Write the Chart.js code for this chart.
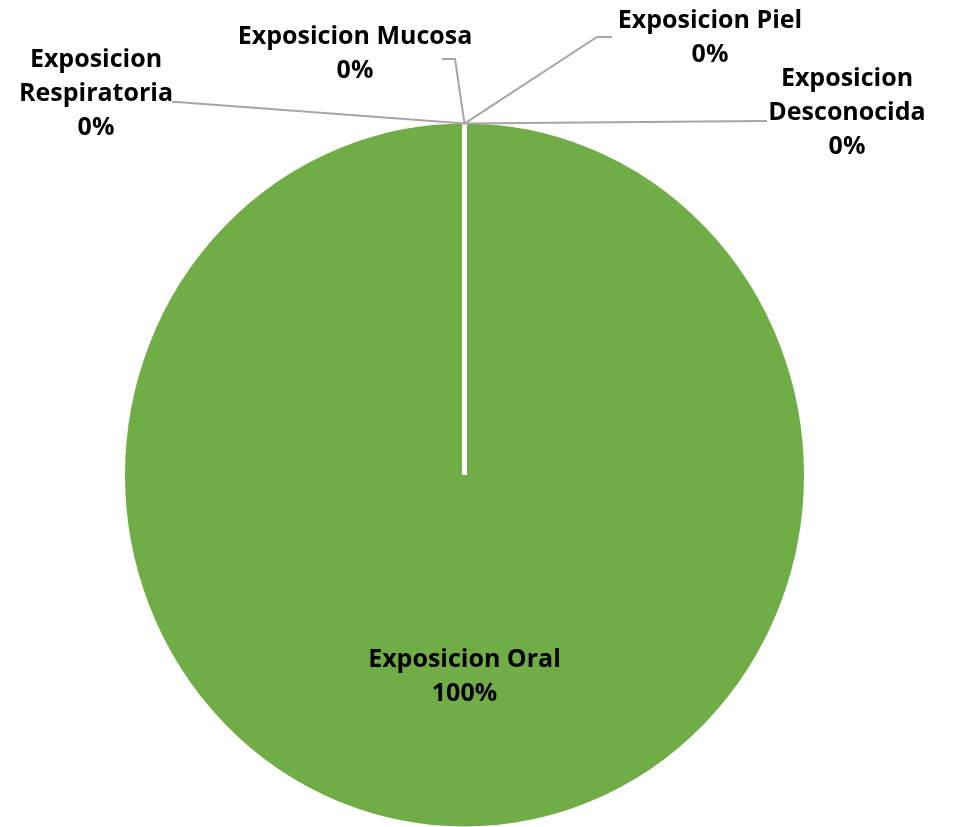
<!DOCTYPE html>
<html>
<head>
<meta charset="utf-8">
<script src="https://cdn.jsdelivr.net/npm/chart.js@4.4.1/dist/chart.umd.min.js"></script>
<style>
  html, body { margin: 0; padding: 0; background: #ffffff; }
  #wrap { position: relative; width: 959px; height: 827px; }
</style>
</head>
<body>
<div id="wrap"><canvas id="c" width="959" height="827"></canvas></div>
<script>
const categories = ["Exposicion Oral", "Exposicion Respiratoria", "Exposicion Mucosa", "Exposicion Piel", "Exposicion Desconocida"];
const values = [100, 0, 0, 0, 0];
const colors = ["#70ad47", "#ed7d31", "#a5a5a5", "#ffc000", "#5b9bd5"];

const FONT = 'bold 25px "Open Sans", "DejaVu Sans", sans-serif';
const LINE_H = 34;
const SCALE_Y = 1.035;

// label placement (text block centre + leader elbow), per category index
const labelLayout = {
  1: { wrap: true,  x: 96,  y: 94,  elbow: [177, 102], end: [172, 102] },
  2: { wrap: false, x: 355, y: 54,  elbow: [455, 59],  end: [442, 59] },
  3: { wrap: false, x: 710, y: 38,  elbow: [597, 37],  end: [612, 37] },
  4: { wrap: true,  x: 847, y: 113, elbow: [762, 121], end: [767, 121] }
};

const ellipsePlugin = {
  id: 'ellipse',
  beforeDatasetsDraw(chart) {
    const el = chart.getDatasetMeta(0).data[0];
    const ctx = chart.ctx;
    ctx.save();
    ctx.translate(el.x, el.y);
    ctx.scale(1, SCALE_Y);
    ctx.translate(-el.x, -el.y);
  },
  afterDatasetsDraw(chart) {
    chart.ctx.restore();
  }
};

const labelPlugin = {
  id: 'pieLabels',
  afterDatasetsDraw(chart) {
    const ctx = chart.ctx;
    const meta = chart.getDatasetMeta(0);
    const data = chart.data.datasets[0].data;
    const total = data.reduce((a, b) => a + b, 0);
    ctx.save();
    ctx.font = FONT;
    ctx.fillStyle = '#000000';
    ctx.textAlign = 'center';
    ctx.textBaseline = 'middle';
    meta.data.forEach((arc, i) => {
      const name = chart.data.labels[i];
      const pct = Math.round(data[i] / total * 100) + '%';
      const p = arc.getProps(['x', 'y', 'startAngle', 'endAngle', 'outerRadius'], true);
      if (data[i] > 0) {
        const mid = (p.startAngle + p.endAngle) / 2;
        const r = p.outerRadius * 0.57;
        const cx = p.x + Math.cos(mid) * r;
        const cy = p.y + Math.sin(mid) * r * SCALE_Y;
        ctx.fillText(name, cx, cy - LINE_H / 2);
        ctx.fillText(pct, cx, cy + LINE_H / 2);
      } else {
        const L = labelLayout[i];
        const sx = p.x + Math.cos(p.startAngle) * (p.outerRadius - 2.5);
        const sy = p.y + Math.sin(p.startAngle) * (p.outerRadius - 2.5) * SCALE_Y;
        ctx.strokeStyle = '#a6a6a6';
        ctx.lineWidth = 2;
        ctx.beginPath();
        ctx.moveTo(sx, sy);
        ctx.lineTo(L.elbow[0], L.elbow[1]);
        ctx.lineTo(L.end[0], L.end[1]);
        ctx.stroke();
        const lines = L.wrap ? name.split(' ').concat([pct]) : [name, pct];
        const top = L.y - (lines.length - 1) * LINE_H / 2;
        lines.forEach((t, k) => ctx.fillText(t, L.x, top + k * LINE_H));
      }
    });
    ctx.restore();
  }
};

new Chart(document.getElementById('c'), {
  type: 'pie',
  data: {
    labels: categories,
    datasets: [{
      data: values,
      backgroundColor: colors,
      borderColor: '#ffffff',
      borderWidth: 5
    }]
  },
  options: {
    responsive: false,
    animation: false,
    events: [],
    layout: { padding: { left: 120, right: 150, top: 130.5, bottom: 7.5 } },
    plugins: {
      legend: { display: false },
      tooltip: { enabled: false },
      title: { display: false }
    }
  },
  plugins: [ellipsePlugin, labelPlugin]
});
</script>
</body>
</html>
